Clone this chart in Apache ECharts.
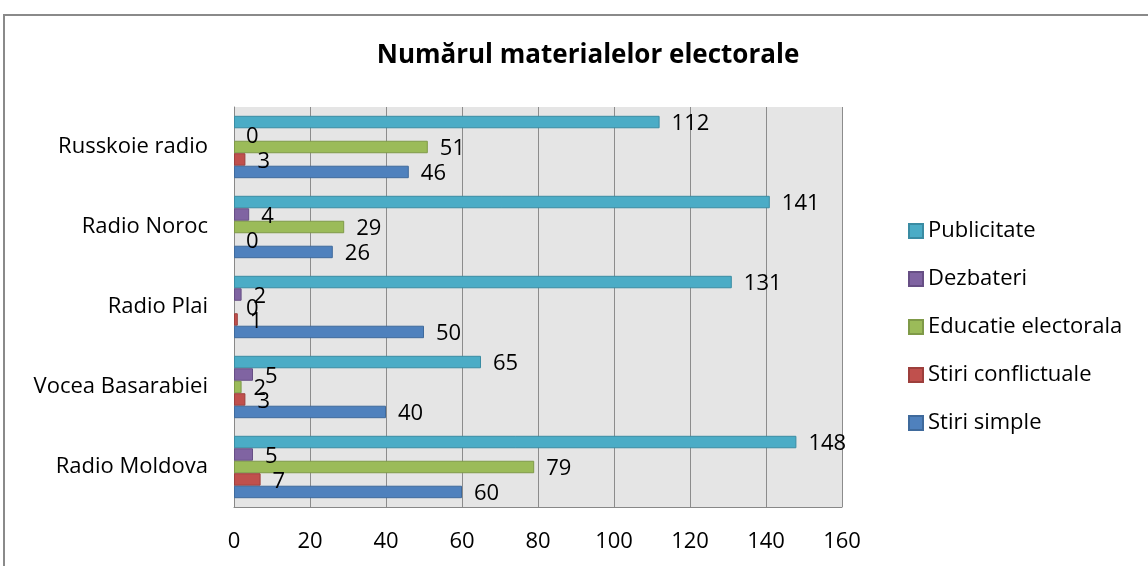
<!DOCTYPE html>
<html>
<head>
<meta charset="utf-8">
<script src="https://cdn.jsdelivr.net/npm/echarts@6/dist/echarts.min.js"></script>
<style>
  html, body { margin: 0; padding: 0; background: #fff; }
  #chart { width: 1148px; height: 566px; }
</style>
</head>
<body>
<div id="chart"></div>
<script>
// categories bottom -> top
const stations = ["Radio Moldova", "Vocea Basarabiei", "Radio Plai", "Radio Noroc", "Russkoie radio"];
const stiriSimple = [60, 40, 50, 26, 46];
const stiriConflictuale = [7, 3, 1, 0, 3];
const educatie = [79, 2, 0, 29, 51];
const dezbateri = [5, 5, 2, 4, 0];
const publicitate = [148, 65, 131, 141, 112];

const FONT = "Open Sans";
const FS = 22;

function serie(name, data, color, border) {
  return {
    name: name,
    type: "bar",
    // zero bars: no outline, only the label
    data: data.map(v => v === 0 ? { value: v, itemStyle: { borderWidth: 0 } } : v),
    barGap: "0%",
    barCategoryGap: "22%",
    itemStyle: { color: color, borderColor: border, borderWidth: 1 },
    label: {
      show: true,
      position: "right",
      distance: 12,
      offset: [0, 2],
      color: "#000",
      fontFamily: FONT,
      fontSize: FS
    }
  };
}

const chart = echarts.init(document.getElementById("chart"));
chart.setOption({
  animation: false,
  textStyle: { fontFamily: FONT },
  title: {
    text: "Numărul materialelor electorale",
    left: 583,
    textAlign: "center",
    top: 38,
    textStyle: { fontFamily: FONT, fontWeight: "bold", fontSize: 26, color: "#000" }
  },
  graphic: [{
    type: "rect",
    shape: { x: 4, y: 15, width: 1200, height: 600 },
    style: { fill: "none", stroke: "#8a8a8a", lineWidth: 2 },
    silent: true
  }],
  legend: {
    orient: "vertical",
    left: 903,
    top: 212,
    itemWidth: 14,
    itemHeight: 14,
    itemGap: 20,
    icon: "rect",
    data: ["Publicitate", "Dezbateri", "Educatie electorala", "Stiri conflictuale", "Stiri simple"],
    textStyle: { fontFamily: FONT, fontSize: FS, color: "#000", lineHeight: 28 }
  },
  grid: {
    left: 234,
    right: 1148 - 842,
    top: 107,
    bottom: 566 - 507,
    show: true,
    backgroundColor: "#e5e5e5",
    borderWidth: 0
  },
  xAxis: {
    type: "value",
    min: 0,
    max: 160,
    interval: 20,
    axisLine: { show: true, lineStyle: { color: "#888", width: 1 } },
    axisTick: { show: false },
    splitLine: { show: true, lineStyle: { color: "#8c8c8c", width: 1 } },
    axisLabel: { margin: 24, color: "#000", fontFamily: FONT, fontSize: FS }
  },
  yAxis: {
    type: "category",
    data: stations,
    axisLine: { show: true, lineStyle: { color: "#888", width: 1 } },
    axisTick: { show: false },
    axisLabel: { margin: 26, color: "#000", fontFamily: FONT, fontSize: FS }
  },
  // first series is drawn at the top of each group
  series: [
    serie("Publicitate", publicitate, "#4bacc6", "#3a8ca3"),
    serie("Dezbateri", dezbateri, "#8064a2", "#674f85"),
    serie("Educatie electorala", educatie, "#9bbb59", "#7f9a48"),
    serie("Stiri conflictuale", stiriConflictuale, "#c0504d", "#9d3f3c"),
    serie("Stiri simple", stiriSimple, "#4f81bd", "#3f6a9c")
  ]
});
</script>
</body>
</html>
